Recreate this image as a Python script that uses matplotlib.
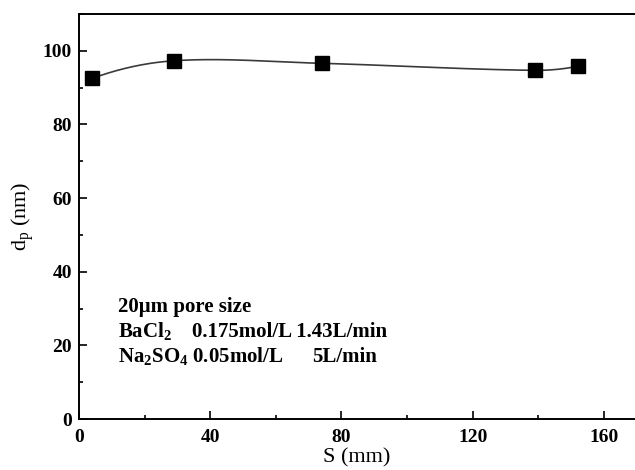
import numpy as np
import matplotlib
matplotlib.use("Agg")
import matplotlib.pyplot as plt
from matplotlib.ticker import MultipleLocator

S = [4, 29, 74, 139, 152]
dp = [92.5, 97.3, 96.6, 94.7, 95.8]

plt.rcParams['font.family'] = ['Liberation Serif', 'DejaVu Serif']
plt.rcParams['mathtext.fontset'] = 'custom'
plt.rcParams['mathtext.rm'] = 'Liberation Serif'
plt.rcParams['mathtext.bf'] = 'Liberation Serif:bold'
plt.rcParams['mathtext.it'] = 'Liberation Serif:italic'


def hermite_curve(x, y, xs):
    x = np.asarray(x, float); y = np.asarray(y, float)
    n = len(x)
    m = np.empty(n)
    m[1:-1] = (y[2:] - y[:-2]) / (x[2:] - x[:-2])
    m[0] = 2 * (y[1] - y[0]) / (x[1] - x[0]) - m[1]
    m[-1] = 2 * (y[-1] - y[-2]) / (x[-1] - x[-2]) - m[-2]
    out = np.empty_like(xs)
    for k, xv in enumerate(xs):
        i = min(max(np.searchsorted(x, xv) - 1, 0), n - 2)
        h = x[i + 1] - x[i]
        t = (xv - x[i]) / h
        h00 = 2 * t**3 - 3 * t**2 + 1
        h10 = t**3 - 2 * t**2 + t
        h01 = -2 * t**3 + 3 * t**2
        h11 = t**3 - t**2
        out[k] = h00 * y[i] + h10 * h * m[i] + h01 * y[i + 1] + h11 * h * m[i + 1]
    return out


fig = plt.figure(figsize=(6.35, 4.7), dpi=100)
ax = fig.add_axes([79 / 635, 1 - 419 / 470, 1 - 79 / 635, (419 - 14) / 470])

xs = np.linspace(S[0], S[-1], 300)
ax.plot(xs, hermite_curve(S, dp, xs), color='#3a3a3a', lw=1.2)
ax.plot(S, dp, 's', color='black', ms=9.5, linestyle='none')

ax.set_xlim(0, 169.5)
ax.set_ylim(0, 110)
ax.xaxis.set_major_locator(MultipleLocator(40))
ax.xaxis.set_minor_locator(MultipleLocator(20))
ax.yaxis.set_major_locator(MultipleLocator(20))
ax.yaxis.set_minor_locator(MultipleLocator(10))
ax.tick_params(which='both', direction='in', top=False, right=False, width=1.2)
ax.tick_params(which='major', length=6, labelsize=14)
ax.tick_params(which='minor', length=3)
ax.tick_params(axis='x', which='major', pad=7)
ax.tick_params(axis='y', which='major', pad=5)
for lab in ax.get_xticklabels() + ax.get_yticklabels():
    lab.set_fontweight('bold')
ax.spines['right'].set_visible(False)
for s in ['left', 'bottom', 'top']:
    ax.spines[s].set_linewidth(1.4)

ax.set_xlabel('S (mm)', fontsize=16, labelpad=2)
ax.set_ylabel(r'd$_\mathrm{p}$ (nm)', fontsize=16, labelpad=5)

kw = dict(fontsize=15, fontweight='bold', transform=ax.transData, va='baseline')
ax.text(12, 29, '20\u03bcm pore size', **kw)
ax.text(12, 22.2, r'BaCl$_\mathbf{2}$', **kw)
ax.text(34.4, 22.2, '0.175mol/L 1.43L/min', **kw)
ax.text(12, 15.6, r'Na$_\mathbf{2}$SO$_\mathbf{4}$ 0.05mol/L', **kw)
ax.text(71, 15.6, '5L/min', **kw)

fig.savefig('out.png', dpi=100)
